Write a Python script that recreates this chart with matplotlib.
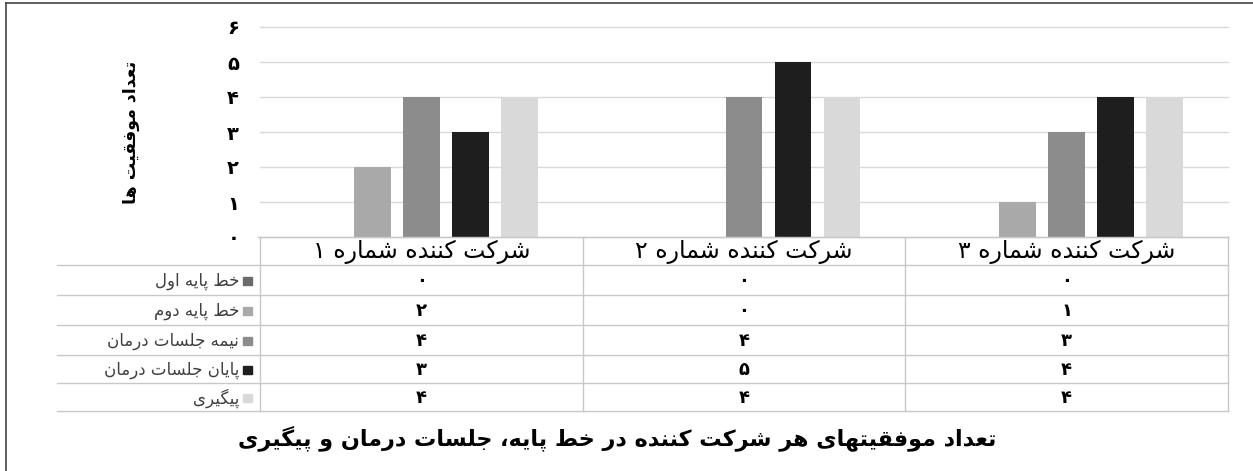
import matplotlib
matplotlib.use("Agg")
import matplotlib.pyplot as plt
from matplotlib.transforms import blended_transform_factory
from matplotlib.patches import Rectangle

# ---------------- data ----------------
categories = ["شرکت کننده شماره ۱", "شرکت کننده شماره ۲", "شرکت کننده شماره ۳"]
series_names = ["خط پایه اول", "خط پایه دوم", "نیمه جلسات درمان", "پایان جلسات درمان", "پیگیری"]
base1 = [0, 0, 0]
base2 = [2, 0, 1]
mid_treat = [4, 4, 3]
end_treat = [3, 5, 4]
followup = [4, 4, 4]
series_values = [base1, base2, mid_treat, end_treat, followup]
series_colors = ["#6b6b6b", "#a9a9a9", "#8c8c8c", "#1e1e1e", "#d9d9d9"]
y_ticks = [0, 1, 2, 3, 4, 5, 6]
y_label = "تعداد موفقیت ها"
title = "تعداد موفقیتهای هر شرکت کننده در خط پایه، جلسات درمان و پیگیری"

# ------------- simple Persian shaping -------------
FORMS = {
    'ا': (0xFE8D, 0xFE8E), 'ب': (0xFE8F, 0xFE90, 0xFE91, 0xFE92),
    'ة': (0xFE93, 0xFE94), 'ت': (0xFE95, 0xFE96, 0xFE97, 0xFE98),
    'ث': (0xFE99, 0xFE9A, 0xFE9B, 0xFE9C), 'ج': (0xFE9D, 0xFE9E, 0xFE9F, 0xFEA0),
    'ح': (0xFEA1, 0xFEA2, 0xFEA3, 0xFEA4), 'خ': (0xFEA5, 0xFEA6, 0xFEA7, 0xFEA8),
    'د': (0xFEA9, 0xFEAA), 'ذ': (0xFEAB, 0xFEAC), 'ر': (0xFEAD, 0xFEAE),
    'ز': (0xFEAF, 0xFEB0), 'س': (0xFEB1, 0xFEB2, 0xFEB3, 0xFEB4),
    'ش': (0xFEB5, 0xFEB6, 0xFEB7, 0xFEB8), 'ص': (0xFEB9, 0xFEBA, 0xFEBB, 0xFEBC),
    'ض': (0xFEBD, 0xFEBE, 0xFEBF, 0xFEC0), 'ط': (0xFEC1, 0xFEC2, 0xFEC3, 0xFEC4),
    'ظ': (0xFEC5, 0xFEC6, 0xFEC7, 0xFEC8), 'ع': (0xFEC9, 0xFECA, 0xFECB, 0xFECC),
    'غ': (0xFECD, 0xFECE, 0xFECF, 0xFED0), 'ف': (0xFED1, 0xFED2, 0xFED3, 0xFED4),
    'ق': (0xFED5, 0xFED6, 0xFED7, 0xFED8), 'ک': (0xFB8E, 0xFB8F, 0xFB90, 0xFB91),
    'گ': (0xFB92, 0xFB93, 0xFB94, 0xFB95), 'ل': (0xFEDD, 0xFEDE, 0xFEDF, 0xFEE0),
    'م': (0xFEE1, 0xFEE2, 0xFEE3, 0xFEE4), 'ن': (0xFEE5, 0xFEE6, 0xFEE7, 0xFEE8),
    'ه': (0xFEE9, 0xFEEA, 0xFEEB, 0xFEEC), 'و': (0xFEED, 0xFEEE),
    'ی': (0xFBFC, 0xFBFD, 0xFBFE, 0xFBFF), 'پ': (0xFB56, 0xFB57, 0xFB58, 0xFB59),
    'چ': (0xFB7A, 0xFB7B, 0xFB7C, 0xFB7D), 'ژ': (0xFB8A, 0xFB8B),
}


def fa(s):
    out = []
    i = 0
    n = len(s)
    while i < n:
        c = s[i]
        if c not in FORMS:
            out.append(c)
            i += 1
            continue
        prev = s[i - 1] if i > 0 else None
        nxt = s[i + 1] if i + 1 < n else None
        join_prev = prev in FORMS and len(FORMS[prev]) == 4
        if c == 'ل' and nxt == 'ا':
            out.append(chr(0xFEFC if join_prev else 0xFEFB))
            i += 2
            continue
        f = FORMS[c]
        join_next = len(f) == 4 and nxt in FORMS
        if join_prev and join_next:
            g = f[3]
        elif join_prev:
            g = f[1]
        elif join_next:
            g = f[2]
        else:
            g = f[0]
        out.append(chr(g))
        i += 1
    return "".join(out[::-1])


def fa_num(v):
    return "".join("۰۱۲۳۴۵۶۷۸۹"[int(d)] for d in str(v))


plt.rcParams['font.family'] = ['DejaVu Sans']

W, H = 1253, 471
fig = plt.figure(figsize=(W / 100, H / 100), dpi=100)
fig.patch.set_facecolor("white")

# main bar axes
ax_left, ax_right, ax_top, ax_bottom = 260, 1228, 27, 237
ax = fig.add_axes([ax_left / W, (H - ax_bottom) / H, (ax_right - ax_left) / W, (ax_bottom - ax_top) / H])
ax.set_facecolor("none")
n_series = len(series_values)
pitch = 0.152
width = 0.114
x = list(range(len(categories)))
for si, (vals, col) in enumerate(zip(series_values, series_colors)):
    xs = [xi + (si - (n_series - 1) / 2) * pitch for xi in x]
    ax.bar(xs, vals, width=width, color=col, zorder=3)
ax.set_xlim(-0.5, len(categories) - 0.5)
ax.set_ylim(0, 6)
ax.set_yticks(y_ticks)
ax.set_yticklabels([fa_num(t) for t in y_ticks], fontsize=14, fontweight="bold")
ax.tick_params(axis="y", length=0, pad=15)
ax.set_xticks([])
for sp in ax.spines.values():
    sp.set_visible(False)
ax.yaxis.grid(True, color="#d9d9d9", linewidth=1.0, zorder=0)
for gl in ax.get_ygridlines():
    gl.set_clip_on(False)

# overlay for table / frame (pixel coords)
ov = fig.add_axes([0, 0, 1, 1])
ov.set_xlim(0, W)
ov.set_ylim(H, 0)
ov.axis("off")
ov.patch.set_visible(False)

# outer frame
ov.plot([6, 6], [3, H + 5], color="#444444", lw=1.2, clip_on=False)
ov.plot([6, W + 5], [3, 3], color="#444444", lw=1.2, clip_on=False)

# y label
ov.text(131, 132, fa(y_label), rotation=90, ha="center", va="center", fontsize=12.5, fontweight="bold")

# table geometry
row_lines = [265, 295, 325, 355, 383, 411]
header_top = 237
table_left = 57
line_col = "#c8c8c8"
bx = blended_transform_factory(ax.transData, ov.transData)

ov.plot([ax_left - 2, ax_right], [header_top, header_top], color=line_col, lw=1)
for yl in row_lines:
    ov.plot([table_left, ax_right], [yl, yl], color=line_col, lw=1)
for b in [k - 0.5 for k in range(len(categories) + 1)]:
    ov.plot([b, b], [header_top, row_lines[-1]], color=line_col, lw=1, transform=bx)

# header texts
for ci, cat in enumerate(categories):
    ov.text(ci, (header_top + row_lines[0]) / 2 + 1, fa(cat), transform=bx, ha="center", va="center",
            fontsize=17)

# rows
for si, (name, vals, col) in enumerate(zip(series_names, series_values, series_colors)):
    top = row_lines[si]
    bot = row_lines[si + 1]
    yc = (top + bot) / 2 + 1
    ov.add_patch(Rectangle((243, yc - 4), 9, 8, color=col))
    ov.text(239, yc, fa(name), ha="right", va="center", fontsize=12, color="#404040")
    for ci, v in enumerate(vals):
        ov.text(ci, yc, fa_num(v), transform=bx, ha="center", va="center", fontsize=13, fontweight="bold")

# title
ov.text(617, 438, fa(title), ha="center", va="center", fontsize=16, fontweight="bold")

fig.savefig("out.png", dpi=100, facecolor="white")
